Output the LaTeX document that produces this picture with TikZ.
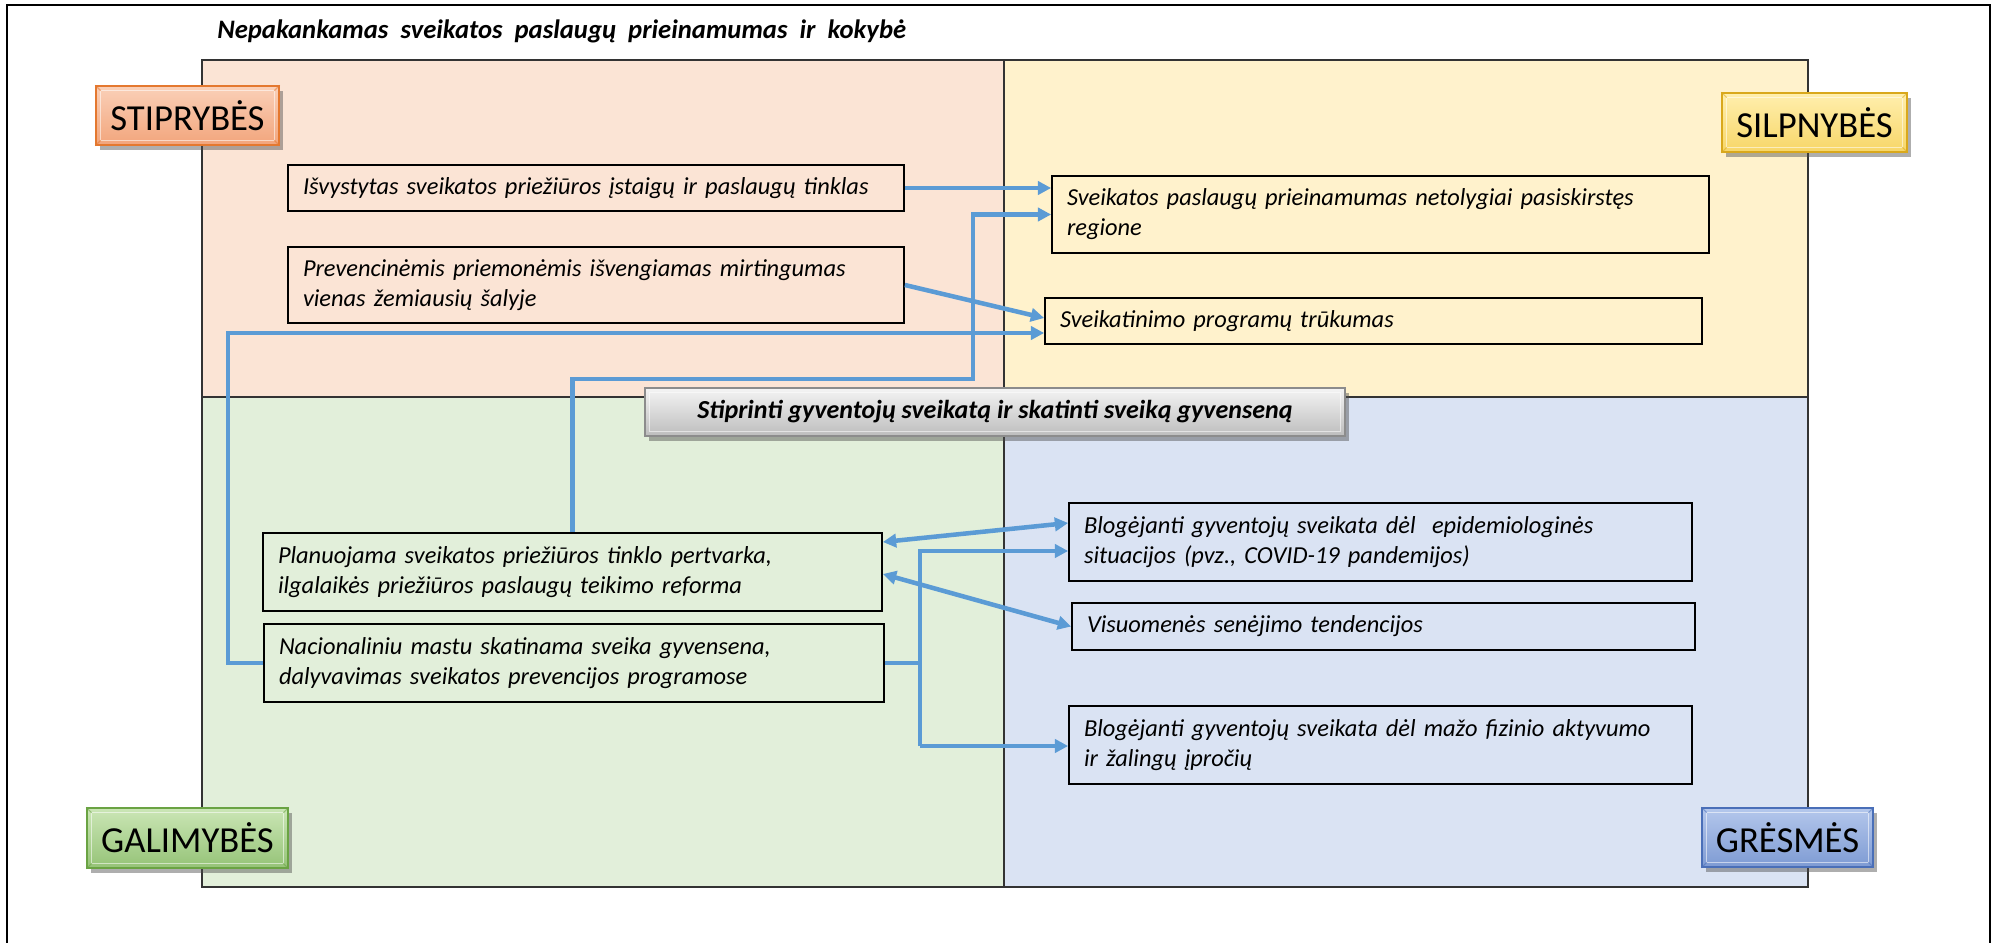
\documentclass[tikz,border=0pt]{standalone}
\usepackage{fontspec}
\setmainfont{Carlito}
\usetikzlibrary{arrows.meta,shadows,calc}
\hyphenpenalty=10000
\exhyphenpenalty=10000
\definecolor{qTL}{HTML}{FBE4D5}
\definecolor{qTR}{HTML}{FFF2CC}
\definecolor{qBL}{HTML}{E2EFDA}
\definecolor{qBR}{HTML}{DAE3F3}
\definecolor{conn}{HTML}{5B9BD5}
\definecolor{orTop}{HTML}{FAD0B8}
\definecolor{orBot}{HTML}{F2A57C}
\definecolor{orEdge}{HTML}{E4782F}
\definecolor{yeTop}{HTML}{FFEFAE}
\definecolor{yeBot}{HTML}{F7D668}
\definecolor{yeEdge}{HTML}{D9A81C}
\definecolor{grTop}{HTML}{CBE6B6}
\definecolor{grBot}{HTML}{95C377}
\definecolor{grEdge}{HTML}{6AA343}
\definecolor{blTop}{HTML}{B4C7EC}
\definecolor{blBot}{HTML}{7E9BD3}
\definecolor{blEdge}{HTML}{4A6FB8}
\definecolor{gyTop}{HTML}{F4F4F4}
\definecolor{gyBot}{HTML}{BDBDBD}
\definecolor{gyEdge}{HTML}{8C8C8C}
\begin{document}
\begin{tikzpicture}[x=0.75pt,y=-0.75pt,
  quad/.style={draw=black!80, line width=1.4pt},
  tbox/.style={draw=black, line width=1.3pt, rectangle, inner xsep=11.25pt, inner ysep=0pt,
    align=left, font=\itshape\fontsize{18.3}{22.5}\selectfont},
  lab/.style={rectangle, line width=1pt, font=\fontsize{27.5}{30}\selectfont,
    drop shadow={shadow xshift=3pt, shadow yshift=-3.5pt, opacity=0.45, fill=black!70}},
  bevel/.style={line width=0.8pt, opacity=0.55},
  line/.style={draw=conn, line width=3.4pt},
  arr/.style={line, -{Triangle[length=10pt,width=10pt]}},
  darr/.style={line, {Triangle[length=10pt,width=10pt]}-{Triangle[length=10pt,width=10pt]}}
]
\useasboundingbox (0,0) rectangle (1998,942);
% outer frame
\draw[line width=2pt] (7,960) -- (7,5) -- (1990,5) -- (1990,960);
% title
\node[anchor=base west, inner sep=0pt, font=\bfseries\itshape\fontsize{20}{22}\selectfont] (title) at (217,39)
  {Nepakankamas\ \ sveikatos\ \ paslaugų\ \ prieinamumas\ \ ir\ \ kokybė};
% quadrants
\fill[qTL] (202,60) rectangle (1004,397);
\fill[qTR] (1004,60) rectangle (1808,397);
\fill[qBL] (202,397) rectangle (1004,887);
\fill[qBR] (1004,397) rectangle (1808,887);
\draw[quad] (202,60) rectangle (1808,887);
\draw[quad] (1004,60) -- (1004,887);
\draw[quad] (202,397) -- (1808,397);
% label boxes
\node[lab, draw=orEdge, top color=orTop, bottom color=orBot, minimum width=137.25pt, minimum height=44.25pt] (S) at (187.5,115.5) {STIPRYBĖS};
\node[lab, draw=yeEdge, top color=yeTop, bottom color=yeBot, minimum width=138.75pt, minimum height=44.25pt] (W) at (1814.5,122.5) {SILPNYBĖS};
\node[lab, draw=grEdge, top color=grTop, bottom color=grBot, minimum width=150.75pt, minimum height=45pt] (O) at (187.5,838) {GALIMYBĖS};
\node[lab, draw=blEdge, top color=blTop, bottom color=blBot, minimum width=128.25pt, minimum height=44.25pt] (T) at (1787.5,837.5) {GRĖSMĖS};
\foreach \n/\c in {S/orEdge,W/yeEdge,O/grEdge,T/blEdge}{
  \draw[bevel, draw=white] ([xshift=4pt,yshift=-4pt]\n.north west) rectangle ([xshift=-4pt,yshift=4pt]\n.south east);
  \draw[bevel, draw=\c] (\n.north west) -- ([xshift=4pt,yshift=-4pt]\n.north west);
  \draw[bevel, draw=\c] (\n.north east) -- ([xshift=-4pt,yshift=-4pt]\n.north east);
  \draw[bevel, draw=\c] (\n.south west) -- ([xshift=4pt,yshift=4pt]\n.south west);
  \draw[bevel, draw=\c] (\n.south east) -- ([xshift=-4pt,yshift=4pt]\n.south east);
}
% banner
\node[lab, draw=gyEdge, top color=gyTop, bottom color=gyBot, minimum width=525pt, minimum height=36pt,
  font=\bfseries\itshape\fontsize{19.5}{22}\selectfont] (M) at (995,412) {Stiprinti gyventojų sveikatą ir skatinti sveiką gyvenseną};
\draw[bevel, draw=white] ([xshift=4pt,yshift=-4pt]M.north west) rectangle ([xshift=-4pt,yshift=4pt]M.south east);
% text boxes
\node[tbox, text width=439.5pt, minimum height=34.5pt] (A) at (596,188) {Išvystytas sveikatos priežiūros įstaigų ir paslaugų tinklas};
\node[tbox, text width=439.5pt, minimum height=57pt] (B) at (596,285) {Prevencinėmis priemonėmis išvengiamas mirtingumas\\vienas žemiausių šalyje};
\node[tbox, text width=470.25pt, minimum height=57.75pt] (C) at (1380.5,214.5) {Sveikatos paslaugų prieinamumas netolygiai pasiskirstęs\\regione};
\node[tbox, text width=470.25pt, minimum height=34.5pt] (D) at (1373.5,321) {Sveikatinimo programų trūkumas};
\node[tbox, text width=441.75pt, minimum height=58.5pt] (E) at (572.5,572) {Planuojama sveikatos priežiūros tinklo pertvarka,\\ilgalaikės priežiūros paslaugų teikimo reforma};
\node[tbox, text width=442.5pt, minimum height=58.5pt] (F) at (574,663) {Nacionaliniu mastu skatinama sveika gyvensena,\\dalyvavimas sveikatos prevencijos programose};
\node[tbox, text width=444.75pt, minimum height=58.5pt] (G) at (1380.5,542) {Blogėjanti gyventojų sveikata dėl\ \ epidemiologinės\\situacijos (pvz., COVID-19 pandemijos)};
\node[tbox, text width=444.75pt, minimum height=35.25pt] (H) at (1383.5,626.5) {Visuomenės senėjimo tendencijos};
\node[tbox, text width=444.75pt, minimum height=58.5pt] (I) at (1380.5,745) {Blogėjanti gyventojų sveikata dėl mažo fizinio aktyvumo\\ir žalingų įpročių};
% connectors
\coordinate (j1) at (973,379);
\coordinate (j2) at (228,333);
\coordinate (b1) at (920,551);
\coordinate (b2) at (920,746);
\draw[arr] (A.east) -- (A.east -| C.west);
\draw[arr] (E.north) |- (j1) |- (C.west);
\draw[arr] (B.east) -- ($(D.west)+(0,-3)$);
\draw[arr] (F.west) -| (j2) -- (j2 -| D.west);
\draw[line] (F.east) -- (F.east -| b1);
\draw[arr] (b2) -- (b1) -- (b1 -| G.west);
\draw[arr] (b2) -- (b2 -| I.west);
\draw[darr] ($(E.east)+(0,-30)$) -- ($(G.west)+(0,-19)$);
\draw[darr] ($(E.east)+(0,2)$) -- (H.west);
\end{tikzpicture}
\end{document}
